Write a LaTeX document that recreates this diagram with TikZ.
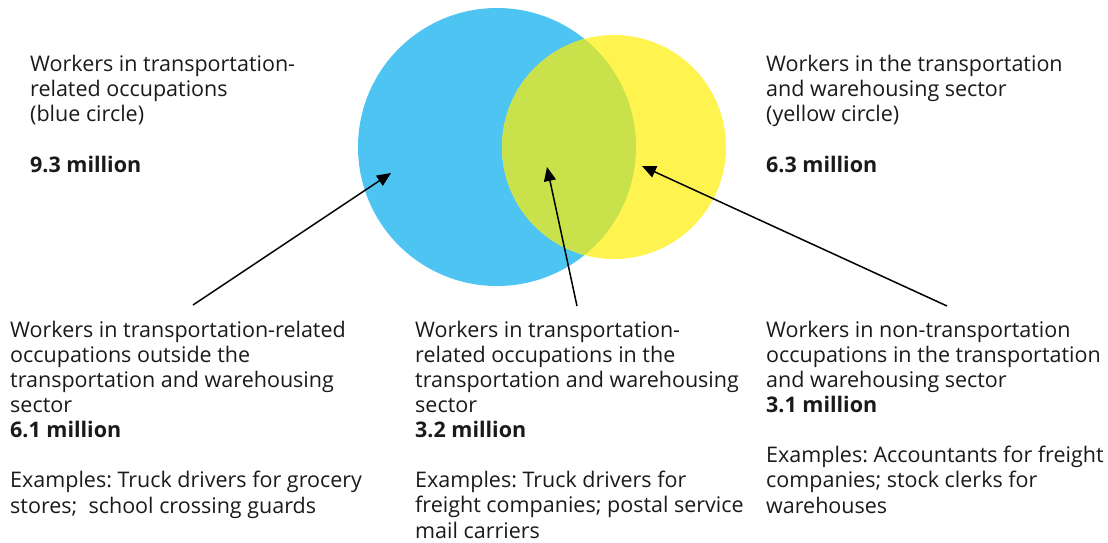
\documentclass[tikz,border=0pt]{standalone}
\usepackage{fontspec}
\setmainfont{Open Sans}
\frenchspacing
\usetikzlibrary{arrows.meta}
\definecolor{bluefill}{HTML}{4DC4F1}
\definecolor{yellowfill}{HTML}{FFF34F}
\definecolor{overlapfill}{HTML}{C9E24B}
\definecolor{inktext}{HTML}{1A1A1A}

\begin{document}
\begin{tikzpicture}[x=1pt,y=-1pt,
	label/.style={anchor=base west, inner sep=0pt, align=left, text=inktext, font=\fontsize{21.5}{25.1}\selectfont},
	pointer/.style={-{Triangle[length=14pt,width=12pt]}, line width=1.5pt, black}]
	\useasboundingbox (0,0) rectangle (1108,542);
	\fill[bluefill] (497,147) circle (139);
	\fill[yellowfill] (614,147) circle (112);
	\begin{scope}
		\clip (497,147) circle (139);
		\fill[overlapfill] (614,147) circle (112);
	\end{scope}
	\node[label] (bluelabel) at (30,172) {Workers in transportation-\\related occupations\\(blue circle)\\[25.1pt]\textbf{9.3 million}};
	\node[label] (yellowlabel) at (766,172) {Workers in the transportation\\and warehousing sector\\(yellow circle)\\[25.1pt]\textbf{6.3 million}};
	\node[label] (outsidelabel) at (10,513) {Workers in transportation-related\\occupations outside the\\transportation and warehousing\\sector\\\textbf{6.1 million}\\[25.1pt]Examples: Truck drivers for grocery\\stores;\ \ school crossing guards};
	\node[label] (insidelabel) at (415,538) {Workers in transportation-\\related occupations in the\\transportation and warehousing\\sector\\\textbf{3.2 million}\\[25.1pt]Examples: Truck drivers for\\freight companies; postal service\\mail carriers};
	\node[label] (nonlabel) at (766,513) {Workers in non-transportation\\occupations in the transportation\\and warehousing sector\\\textbf{3.1 million}\\[25.1pt]Examples: Accountants for freight\\companies; stock clerks for\\warehouses};
	\coordinate (bluetip) at (391,173);
	\coordinate (overlaptip) at (547,167);
	\coordinate (yellowtip) at (642,166);
	\coordinate (outsidefoot) at (193,305);
	\coordinate (insidefoot) at (577,306);
	\coordinate (nonfoot) at (947,306);
	\draw[pointer] (outsidefoot) -- (bluetip);
	\draw[pointer] (insidefoot) -- (overlaptip);
	\draw[pointer] (nonfoot) -- (yellowtip);
\end{tikzpicture}
\end{document}
